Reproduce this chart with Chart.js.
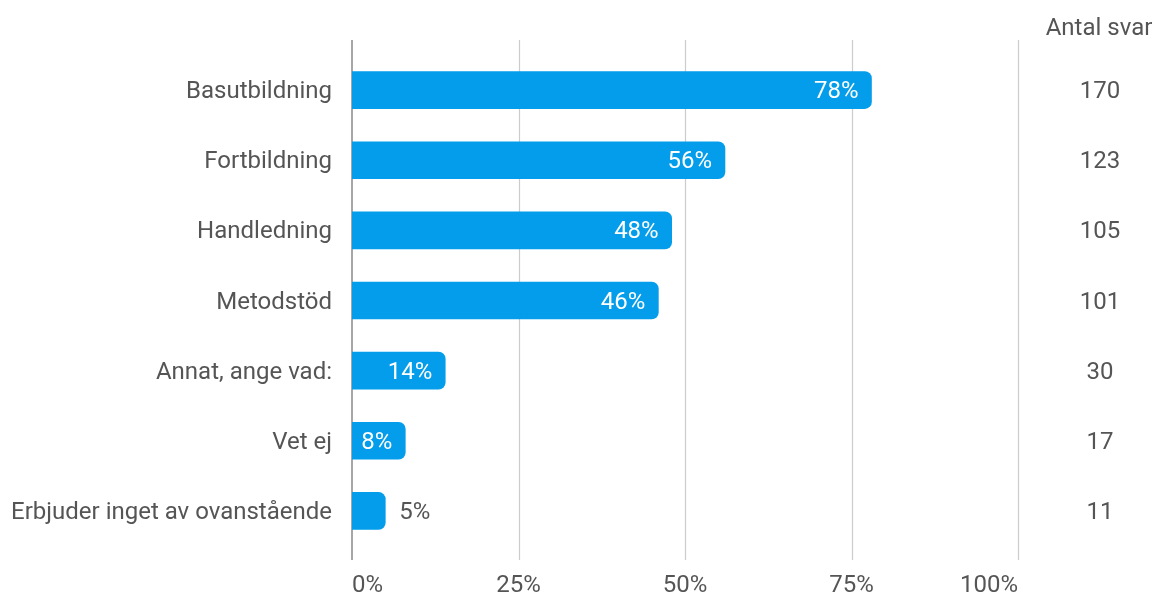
<!DOCTYPE html>
<html>
<head>
<meta charset="utf-8">
<script src="https://cdn.jsdelivr.net/npm/chart.js@4"></script>
<style>
html,body{margin:0;padding:0;background:#fff;}
#wrap{width:1155px;height:595px;position:relative;}
</style>
</head>
<body>
<div id="wrap"><canvas id="c"></canvas></div>
<script>
const categories = ["Basutbildning","Fortbildning","Handledning","Metodstöd","Annat, ange vad:","Vet ej","Erbjuder inget av ovanstående"];
const percentValues = [78,56,48,46,14,8,5];
const answerCounts = [170,123,105,101,30,17,11];
const countHeader = "Antal svar";
const xTicks = [0,25,50,75,100];

const FONT = "Roboto, 'Noto Sans', sans-serif";
const FS = 24;
const TEXT = "#555555";
const BAR = "#039DEB";

const gridPlugin = {
  id: 'extGrid',
  beforeDatasetsDraw(chart) {
    const {ctx, chartArea, scales} = chart;
    const x = scales.x;
    ctx.save();
    xTicks.forEach(v => {
      const px = Math.round(x.getPixelForValue(v));
      ctx.beginPath();
      if (v === 0) { ctx.strokeStyle = '#a6a6a6'; ctx.lineWidth = 2; }
      else { ctx.strokeStyle = '#cccccc'; ctx.lineWidth = 1.2; }
      ctx.moveTo(px + (v === 0 ? 0 : 0.5), chartArea.top - 15);
      ctx.lineTo(px + (v === 0 ? 0 : 0.5), chartArea.bottom + 14);
      ctx.stroke();
    });
    ctx.restore();
  }
};

const labelPlugin = {
  id: 'barLabels',
  afterDatasetsDraw(chart) {
    const {ctx} = chart;
    const meta = chart.getDatasetMeta(0);
    ctx.save();
    ctx.font = FS + "px " + FONT;
    ctx.textBaseline = 'middle';
    meta.data.forEach((bar, i) => {
      const txt = percentValues[i] + '%';
      const w = ctx.measureText(txt).width;
      const barW = bar.x - bar.base;
      if (barW >= w + 18) {
        ctx.fillStyle = '#ffffff';
        ctx.textAlign = 'right';
        ctx.fillText(txt, bar.x - 13, bar.y + 2);
      } else {
        ctx.fillStyle = TEXT;
        ctx.textAlign = 'left';
        ctx.fillText(txt, bar.x + 14, bar.y + 2);
      }
      ctx.fillStyle = TEXT;
      ctx.textAlign = 'center';
      ctx.fillText(String(answerCounts[i]), 1100, bar.y + 2);
    });
    ctx.textAlign = 'center';
    ctx.fillStyle = TEXT;
    ctx.fillText(countHeader, 1099, 29);
    ctx.restore();
  }
};

new Chart(document.getElementById('c'), {
  type: 'bar',
  data: {
    labels: categories,
    datasets: [{
      data: percentValues,
      backgroundColor: BAR,
      borderWidth: 0,
      borderRadius: 7,
      borderSkipped: 'start',
      barThickness: 37
    }]
  },
  options: {
    indexAxis: 'y',
    responsive: true,
    maintainAspectRatio: false,
    animation: false,
    layout: { padding: { top: 55, right: 137, bottom: 0, left: 0 } },
    plugins: { legend: { display: false }, tooltip: { enabled: false } },
    scales: {
      x: {
        min: 0, max: 100,
        afterBuildTicks(scale) { scale.ticks = xTicks.map(v => ({value: v})); },
        afterFit(scale) { scale.height = 49; },
        grid: { display: false, drawTicks: false },
        border: { display: false },
        ticks: {
          font: { size: FS, family: FONT },
          color: TEXT,
          padding: 26,
          align: 'inner',
          callback: v => v + '%'
        }
      },
      y: {
        afterFit(scale) { scale.width = 352; },
        grid: { display: false, drawTicks: false },
        border: { display: false },
        ticks: {
          font: { size: FS, family: FONT },
          color: TEXT,
          padding: 20,
          labelOffset: 2
        }
      }
    }
  },
  plugins: [gridPlugin, labelPlugin]
});
</script>
</body>
</html>
